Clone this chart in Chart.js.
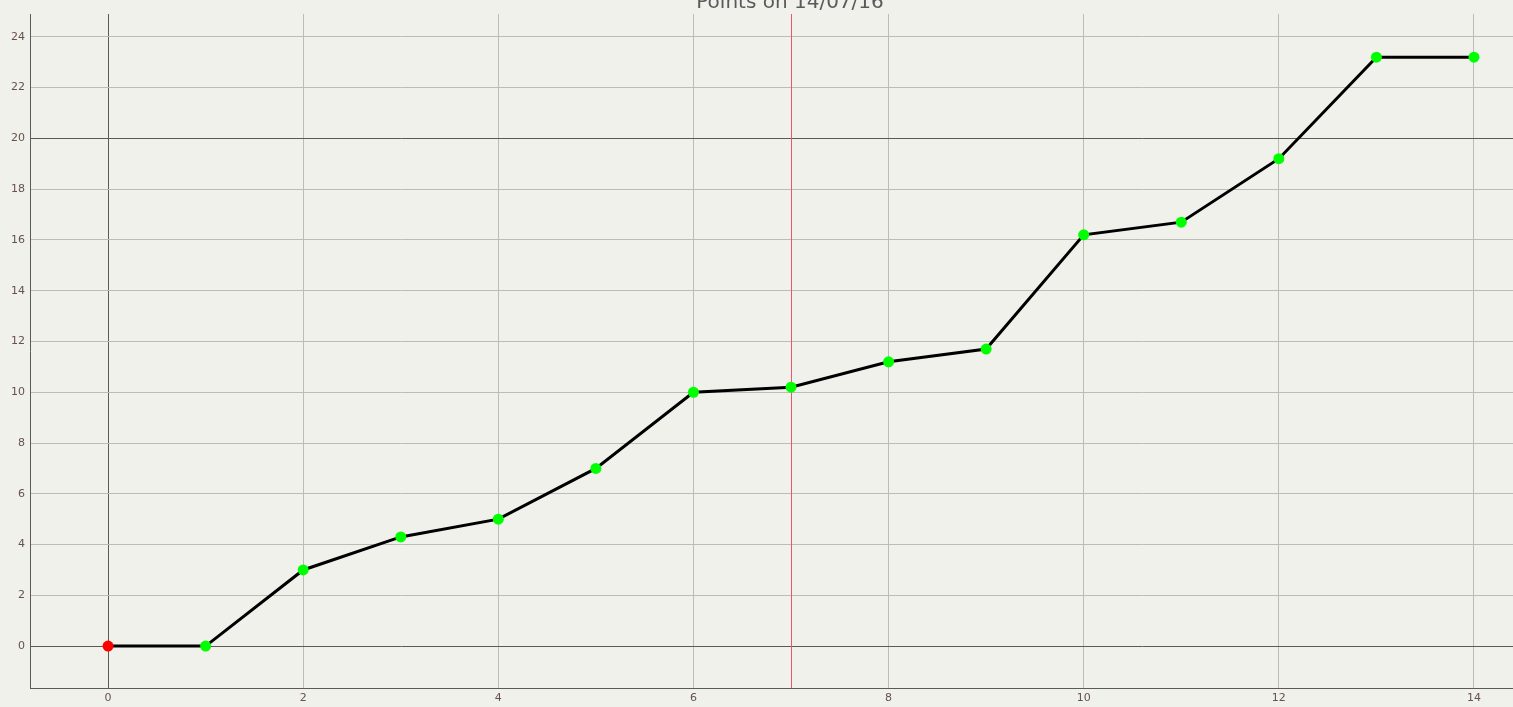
<!DOCTYPE html>
<html>
<head>
<meta charset="utf-8">
<script src="https://cdn.jsdelivr.net/npm/chart.js@4.4.0/dist/chart.umd.min.js"></script>
<style>
	html, body { margin: 0; padding: 0; background: #f0f1eb; overflow: hidden; }
	#wrap { width: 1513px; height: 707px; position: relative; }
</style>
</head>
<body>
<div id="wrap"><canvas id="cnv_points"></canvas></div>
<script>
// data
const days = [0, 1, 2, 3, 4, 5, 6, 7, 8, 9, 10, 11, 12, 13, 14];
const points = [0, 0, 3, 4.3, 5, 7, 10, 10.2, 11.2, 11.7, 16.2, 16.7, 19.2, 23.2, 23.2];
const xTicks = [0, 2, 4, 6, 8, 10, 12, 14];
const yTicks = [0, 2, 4, 6, 8, 10, 12, 14, 16, 18, 20, 22, 24];
const titleText = "Points on 14/07/16";
const markerX = 7;   // red vertical line
const markerY = 20;  // dark horizontal line

const pointColors = points.map((p, i) => i === 0 ? "#ff0000" : "#00ff00");

// title + red marker line, drawn by hand
const extrasPlugin = {
	id: "extras",
	beforeDatasetsDraw(chart) {
		const { ctx, chartArea, scales } = chart;
		const px = Math.floor(scales.x.getPixelForValue(markerX)) + 0.5;
		ctx.save();
		ctx.strokeStyle = "#e8586a";
		ctx.lineWidth = 1;
		ctx.beginPath();
		ctx.moveTo(px, chartArea.top);
		ctx.lineTo(px, chartArea.bottom);
		ctx.stroke();
		ctx.restore();
	},
	afterDraw(chart) {
		const ctx = chart.ctx;
		ctx.save();
		ctx.font = "20px 'DejaVu Sans'";
		ctx.fillStyle = "#5a5a5a";
		ctx.textAlign = "center";
		ctx.textBaseline = "alphabetic";
		ctx.fillText(titleText, 790, 8);
		ctx.restore();
	}
};

const gridColor = (dark) => (c) => dark.includes(c.tick && c.tick.value) ? "#5a5a5a" : "#bcbcb6";

const ctx = document.getElementById("cnv_points").getContext("2d");
const pointsChart = new Chart(ctx, {
	type: "line",
	plugins: [extrasPlugin],
	data: {
		datasets: [{
			data: days.map((d, i) => ({ x: d, y: points[i] })),
			borderColor: "#000000",
			borderWidth: 3,
			pointRadius: 5.5,
			pointBackgroundColor: pointColors,
			pointBorderColor: pointColors,
			pointBorderWidth: 0,
			tension: 0,
			clip: false
		}]
	},
	options: {
		responsive: true,
		maintainAspectRatio: false,
		animation: false,
		layout: { autoPadding: false, padding: { top: 14, right: 0, left: 0, bottom: 0 } },
		plugins: { legend: { display: false }, tooltip: { enabled: false } },
		scales: {
			x: {
				type: "linear",
				min: -0.8,
				max: 14.4,
				afterBuildTicks: (scale) => { scale.ticks = xTicks.map(v => ({ value: v })); },
				afterFit: (scale) => { scale.height = 19; scale.paddingLeft = 0; scale.paddingRight = 0; },
				grid: { color: gridColor([0]), drawTicks: false, lineWidth: 1 },
				border: { color: "#5a5a5a", width: 1 },
				ticks: { color: "#665050", font: { family: "DejaVu Sans", size: 11 }, padding: 4, maxRotation: 0, autoSkip: false }
			},
			y: {
				type: "linear",
				min: -1.65,
				max: 24.9,
				afterBuildTicks: (scale) => { scale.ticks = yTicks.map(v => ({ value: v })); },
				afterFit: (scale) => { scale.width = 30; scale.paddingTop = 0; scale.paddingBottom = 0; },
				grid: { color: gridColor([0, markerY]), drawTicks: false, lineWidth: 1 },
				border: { color: "#5a5a5a", width: 1 },
				ticks: { color: "#665050", font: { family: "DejaVu Sans", size: 11 }, padding: 5, autoSkip: false }
			}
		}
	}
});
</script>
</body>
</html>
